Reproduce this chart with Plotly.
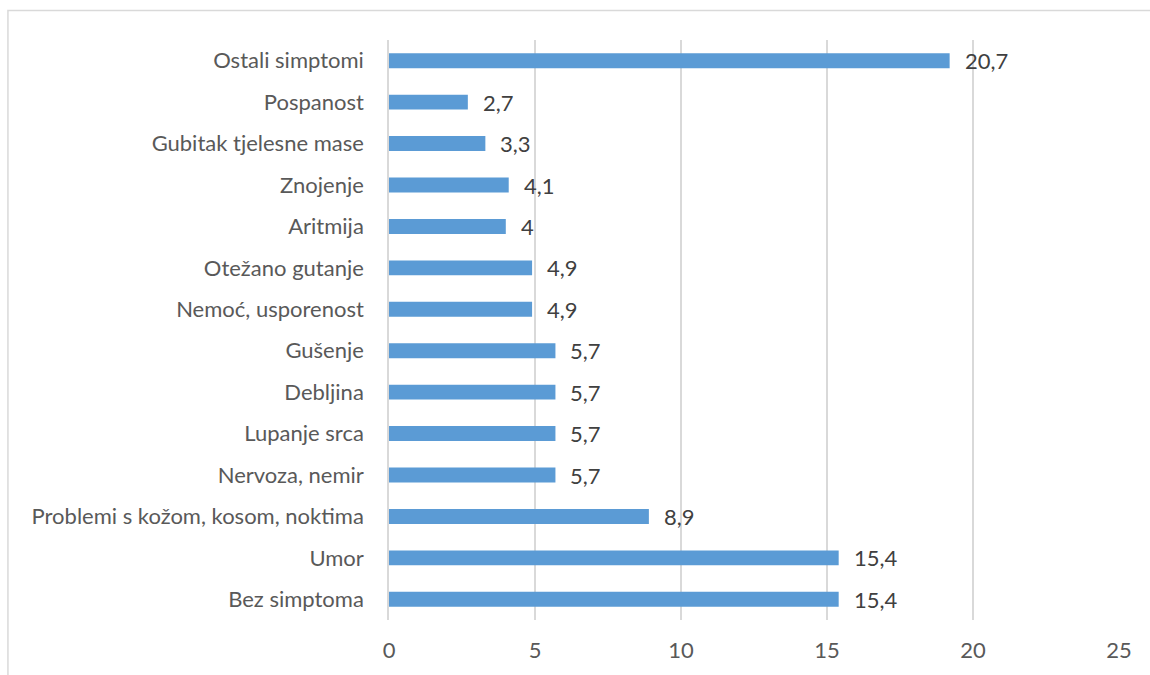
import plotly.graph_objects as go

categories = ["Bez simptoma", "Umor", "Problemi s kožom, kosom, noktima", "Nervoza, nemir",
              "Lupanje srca", "Debljina", "Gušenje", "Nemoć, usporenost", "Otežano gutanje",
              "Aritmija", "Znojenje", "Gubitak tjelesne mase", "Pospanost", "Ostali simptomi"]
bar_values = [15.4, 15.4, 8.9, 5.7, 5.7, 5.7, 5.7, 4.9, 4.9, 4.0, 4.1, 3.3, 2.7, 19.2]
value_labels = ["15,4", "15,4", "8,9", "5,7", "5,7", "5,7", "5,7", "4,9", "4,9", "4", "4,1", "3,3", "2,7", "20,7"]
x_ticks = [0, 5, 10, 15, 20, 25]

FONT = "Lato"
FS = 22

fig = go.Figure()
fig.add_trace(go.Bar(
    y=categories, x=bar_values, orientation="h",
    marker=dict(color="#5b9bd5", line=dict(width=0)),
    width=0.36, hoverinfo="skip",
))

for c, v, t in zip(categories, bar_values, value_labels):
    fig.add_annotation(x=v, y=c, text=t, showarrow=False, xanchor="left",
                       xshift=13, font=dict(family=FONT, size=FS, color="#404040"))

fig.add_shape(type="rect", xref="paper", yref="paper", x0=-0.522, x1=1.3, y0=-0.3, y1=1.0508,
              line=dict(color="#d9d9d9", width=1.5), fillcolor="rgba(0,0,0,0)", layer="below")

fig.update_layout(
    width=1150, height=675,
    margin=dict(l=389, r=31, t=39.5, b=54.5),
    paper_bgcolor="white", plot_bgcolor="white",
    showlegend=False,
    font=dict(family=FONT, size=FS, color="#595959"),
    xaxis=dict(range=[0, 25], tickvals=x_ticks, ticktext=[str(t) for t in x_ticks],
               showgrid=True, gridcolor="#d9d9d9", gridwidth=1.5, zeroline=False,
               showline=False, ticks="", ticklabelstandoff=15,
               tickfont=dict(family=FONT, size=FS, color="#595959"), fixedrange=True),
    yaxis=dict(categoryorder="array", categoryarray=categories, showgrid=False,
               showline=True, linecolor="#d9d9d9", linewidth=1.5, ticks="",
               ticklabelstandoff=19, tickfont=dict(family=FONT, size=FS, color="#595959"),
               fixedrange=True),
)

fig.write_html("out.html", config={"displayModeBar": False},
               post_script="document.body.style.margin='0';document.body.style.overflow='hidden';")
